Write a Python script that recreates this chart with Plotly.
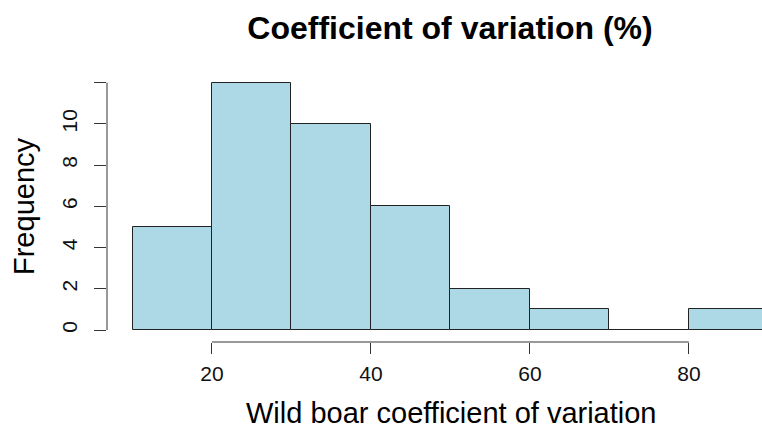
import plotly.graph_objects as go

bin_starts = [10, 20, 30, 40, 50, 60, 70, 80]
bin_width = 10
counts = [5, 12, 10, 6, 2, 1, 0, 1]
x_ticks = [20, 40, 60, 80]
y_ticks = [0, 2, 4, 6, 8, 10, 12]
y_tick_labels = ["0", "2", "4", "6", "8", "10", ""]

FONT = "Liberation Sans, Arial, Helvetica, sans-serif"

L, R, T, B = 107, 762, 60, 342  # plot box in pixels
W, H = 762, 434

fig = go.Figure()
fig.add_trace(go.Bar(
    x=[b + bin_width / 2 for b in bin_starts],
    y=counts,
    width=bin_width,
    marker=dict(color="#ADD8E6", line=dict(color="#222222", width=1)),
    hoverinfo="x+y",
))

fig.update_layout(
    width=W, height=H,
    margin=dict(l=L, r=W - R, t=T, b=H - B),
    plot_bgcolor="white", paper_bgcolor="white",
    showlegend=False,
    bargap=0,
    font=dict(family=FONT, color="black"),
    title=dict(text="<b>Coefficient of variation (%)</b>", x=450 / W, xanchor="center",
               xref="container", yref="container", y=1 - 28 / H, yanchor="middle",
               font=dict(size=32, family=FONT, color="black")),
    xaxis=dict(range=[6.79, 89.2], tickvals=x_ticks, ticks="outside", ticklen=11,
               tickcolor="#333333", showgrid=False, zeroline=False, showline=False,
               tickfont=dict(size=21, color="#111111"), ticklabelstandoff=2),
    yaxis=dict(range=[-0.58, 13.1], tickvals=y_ticks, ticktext=y_tick_labels,
               ticks="outside", ticklen=12, tickcolor="#333333", tickangle=-90,
               showgrid=False, zeroline=False, showline=False,
               tickfont=dict(size=21, color="#111111"), ticklabelstandoff=9),
)

# R-style detached axis lines spanning first to last tick
fig.add_shape(type="line", xref="x", yref="paper", x0=x_ticks[0], x1=x_ticks[-1], y0=0, y1=0,
              line=dict(color="#333333", width=1))
fig.add_shape(type="line", xref="paper", yref="y", x0=0, x1=0, y0=y_ticks[0], y1=y_ticks[-1],
              line=dict(color="#333333", width=1))

fig.add_annotation(text="Wild boar coefficient of variation", xref="paper", yref="paper",
                   x=(451 - L) / (R - L), y=-(413 - B) / (B - T), xanchor="center", yanchor="middle",
                   showarrow=False, font=dict(size=29, family=FONT, color="black"))
fig.add_annotation(text="Frequency", xref="paper", yref="paper", textangle=-90,
                   x=-(L - 24) / (R - L), y=(B - 206) / (B - T), xanchor="center", yanchor="middle",
                   showarrow=False, font=dict(size=29, family=FONT, color="black"))

fig.write_html("out.html")
